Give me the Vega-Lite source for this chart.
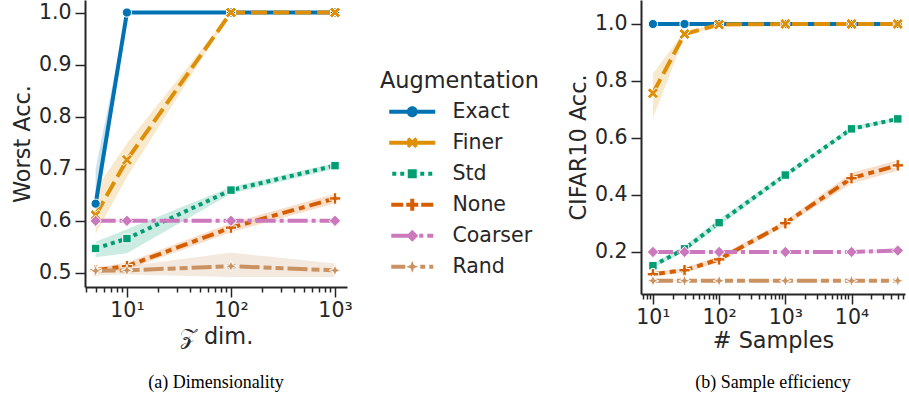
{
  "$schema": "https://vega.github.io/schema/vega-lite/v6.json",
  "padding": {"left": 11, "top": 0, "right": 0, "bottom": 4},
  "config": {
    "view": {"stroke": null},
    "axis": {
      "grid": false,
      "domainColor": "#262626",
      "domainWidth": 2,
      "tickColor": "#262626",
      "tickWidth": 1.5,
      "labelColor": "#262626",
      "titleColor": "#262626",
      "labelFont": "DejaVu Sans",
      "titleFont": "DejaVu Sans",
      "labelFontSize": 20.5,
      "titleFontSize": 22.4,
      "titleFontWeight": "normal"
    },
    "legend": {
      "labelFont": "DejaVu Sans",
      "titleFont": "DejaVu Sans",
      "labelFontSize": 20.5,
      "titleFontSize": 22.4,
      "titleFontWeight": "normal",
      "labelColor": "#262626",
      "titleColor": "#262626",
      "padding": 0
    },
    "title": {"font": "Liberation Serif", "fontSize": 18, "fontWeight": "normal", "color": "#000000"}
  },
  "datasets": {
    "left": [
      {"Augmentation": "Exact", "x": 5, "y": 0.633, "lo": 0.6, "hi": 0.70},
      {"Augmentation": "Exact", "x": 10, "y": 1.0, "lo": 1.0, "hi": 1.0},
      {"Augmentation": "Exact", "x": 100, "y": 1.0, "lo": 1.0, "hi": 1.0},
      {"Augmentation": "Exact", "x": 1000, "y": 1.0, "lo": 1.0, "hi": 1.0},
      {"Augmentation": "Finer", "x": 5, "y": 0.611, "lo": 0.575, "hi": 0.66},
      {"Augmentation": "Finer", "x": 10, "y": 0.717, "lo": 0.684, "hi": 0.749},
      {"Augmentation": "Finer", "x": 100, "y": 1.0, "lo": 1.0, "hi": 1.0},
      {"Augmentation": "Finer", "x": 1000, "y": 1.0, "lo": 1.0, "hi": 1.0},
      {"Augmentation": "Std", "x": 5, "y": 0.547, "lo": 0.53, "hi": 0.56},
      {"Augmentation": "Std", "x": 10, "y": 0.566, "lo": 0.538, "hi": 0.584},
      {"Augmentation": "Std", "x": 100, "y": 0.659, "lo": 0.652, "hi": 0.665},
      {"Augmentation": "Std", "x": 1000, "y": 0.706, "lo": 0.70, "hi": 0.711},
      {"Augmentation": "None", "x": 5, "y": 0.505, "lo": 0.50, "hi": 0.51},
      {"Augmentation": "None", "x": 10, "y": 0.513, "lo": 0.506, "hi": 0.52},
      {"Augmentation": "None", "x": 100, "y": 0.587, "lo": 0.578, "hi": 0.596},
      {"Augmentation": "None", "x": 1000, "y": 0.643, "lo": 0.634, "hi": 0.652},
      {"Augmentation": "Coarser", "x": 5, "y": 0.6, "lo": 0.598, "hi": 0.602},
      {"Augmentation": "Coarser", "x": 10, "y": 0.6, "lo": 0.598, "hi": 0.602},
      {"Augmentation": "Coarser", "x": 100, "y": 0.6, "lo": 0.598, "hi": 0.602},
      {"Augmentation": "Coarser", "x": 1000, "y": 0.6, "lo": 0.598, "hi": 0.602},
      {"Augmentation": "Rand", "x": 5, "y": 0.504, "lo": 0.495, "hi": 0.512},
      {"Augmentation": "Rand", "x": 10, "y": 0.505, "lo": 0.497, "hi": 0.513},
      {"Augmentation": "Rand", "x": 100, "y": 0.513, "lo": 0.492, "hi": 0.539},
      {"Augmentation": "Rand", "x": 1000, "y": 0.505, "lo": 0.492, "hi": 0.518}
    ],
    "right": [
      {"Augmentation": "Exact", "x": 10, "y": 1.0, "lo": 1.0, "hi": 1.0},
      {"Augmentation": "Exact", "x": 30, "y": 1.0, "lo": 1.0, "hi": 1.0},
      {"Augmentation": "Exact", "x": 100, "y": 1.0, "lo": 1.0, "hi": 1.0},
      {"Augmentation": "Exact", "x": 1000, "y": 1.0, "lo": 1.0, "hi": 1.0},
      {"Augmentation": "Exact", "x": 10000, "y": 1.0, "lo": 1.0, "hi": 1.0},
      {"Augmentation": "Exact", "x": 50000, "y": 1.0, "lo": 1.0, "hi": 1.0},
      {"Augmentation": "Finer", "x": 10, "y": 0.757, "lo": 0.67, "hi": 0.825},
      {"Augmentation": "Finer", "x": 30, "y": 0.965, "lo": 0.955, "hi": 0.975},
      {"Augmentation": "Finer", "x": 100, "y": 0.998, "lo": 0.995, "hi": 1.0},
      {"Augmentation": "Finer", "x": 1000, "y": 1.0, "lo": 1.0, "hi": 1.0},
      {"Augmentation": "Finer", "x": 10000, "y": 1.0, "lo": 1.0, "hi": 1.0},
      {"Augmentation": "Finer", "x": 50000, "y": 1.0, "lo": 1.0, "hi": 1.0},
      {"Augmentation": "Std", "x": 10, "y": 0.152, "lo": 0.145, "hi": 0.16},
      {"Augmentation": "Std", "x": 30, "y": 0.211, "lo": 0.2, "hi": 0.222},
      {"Augmentation": "Std", "x": 100, "y": 0.303, "lo": 0.29, "hi": 0.316},
      {"Augmentation": "Std", "x": 1000, "y": 0.47, "lo": 0.462, "hi": 0.478},
      {"Augmentation": "Std", "x": 10000, "y": 0.632, "lo": 0.625, "hi": 0.64},
      {"Augmentation": "Std", "x": 50000, "y": 0.667, "lo": 0.662, "hi": 0.672},
      {"Augmentation": "None", "x": 10, "y": 0.122, "lo": 0.115, "hi": 0.13},
      {"Augmentation": "None", "x": 30, "y": 0.136, "lo": 0.128, "hi": 0.144},
      {"Augmentation": "None", "x": 100, "y": 0.174, "lo": 0.163, "hi": 0.186},
      {"Augmentation": "None", "x": 1000, "y": 0.301, "lo": 0.292, "hi": 0.31},
      {"Augmentation": "None", "x": 10000, "y": 0.459, "lo": 0.44, "hi": 0.478},
      {"Augmentation": "None", "x": 50000, "y": 0.504, "lo": 0.485, "hi": 0.522},
      {"Augmentation": "Coarser", "x": 10, "y": 0.2, "lo": 0.198, "hi": 0.202},
      {"Augmentation": "Coarser", "x": 30, "y": 0.2, "lo": 0.198, "hi": 0.202},
      {"Augmentation": "Coarser", "x": 100, "y": 0.2, "lo": 0.198, "hi": 0.202},
      {"Augmentation": "Coarser", "x": 1000, "y": 0.2, "lo": 0.198, "hi": 0.202},
      {"Augmentation": "Coarser", "x": 10000, "y": 0.2, "lo": 0.197, "hi": 0.203},
      {"Augmentation": "Coarser", "x": 50000, "y": 0.205, "lo": 0.196, "hi": 0.213},
      {"Augmentation": "Rand", "x": 10, "y": 0.099, "lo": 0.097, "hi": 0.101},
      {"Augmentation": "Rand", "x": 30, "y": 0.099, "lo": 0.097, "hi": 0.101},
      {"Augmentation": "Rand", "x": 100, "y": 0.099, "lo": 0.097, "hi": 0.101},
      {"Augmentation": "Rand", "x": 1000, "y": 0.099, "lo": 0.097, "hi": 0.101},
      {"Augmentation": "Rand", "x": 10000, "y": 0.099, "lo": 0.097, "hi": 0.101},
      {"Augmentation": "Rand", "x": 50000, "y": 0.099, "lo": 0.097, "hi": 0.101}
    ]
  },
  "spacing": 214,
  "hconcat": [
    {
      "width": 262,
      "height": 287,
      "data": {"name": "left"},
      "title": {"text": "(a) Dimensionality", "orient": "bottom", "anchor": "middle", "frame": "group", "offset": 26},
      "encoding": {
        "x": {
          "field": "x", "type": "quantitative",
          "scale": {"type": "log", "domain": [3.95, 1304], "nice": false},
          "axis": {
            "title": "𝒵 dim.",
            "values": [4,5,6,7,8,9,10,20,30,40,50,60,70,80,90,100,200,300,400,500,600,700,800,900,1000],
            "labelExpr": "datum.value == 10 ? '10¹' : datum.value == 100 ? '10²' : datum.value == 1000 ? '10³' : ''",
            "tickSize": {"condition": {"test": "datum.value == 10 || datum.value == 100 || datum.value == 1000", "value": 10}, "value": 5},
            "labelPadding": 3,
            "titlePadding": 5,
            "labelFlush": false,
            "labelOverlap": false
          }
        },
        "color": {
          "field": "Augmentation", "type": "nominal",
          "scale": {"domain": ["Exact","Finer","Std","None","Coarser","Rand"], "range": ["#0173b2","#de8f05","#029e73","#d55e00","#cc78bc","#ca9161"]},
          "legend": {
            "orient": "none", "legendX": 295, "legendY": 70,
            "title": "Augmentation",
            "symbolSize": 4, "symbolOffset": 22, "labelOffset": 30,
            "rowPadding": 10, "titlePadding": 9,
            "encode": {"symbols": {"update": {
              "shape": {"signal": "datum.value == 'Exact' ? 'M-23,-2H23V2H-23Z M-5.5,0A5.5,5.5 0 1,1 5.5,0A5.5,5.5 0 1,1 -5.5,0Z' : datum.value == 'Finer' ? 'M-23,-2H23V2H-23Z M3,-5.46L5.46,-3L2.46,0L5.46,3L3,5.46L0,2.46L-3,5.46L-5.46,3L-2.46,0L-5.46,-3L-3,-5.46L0,-2.46Z' : datum.value == 'Std' ? 'M-20,-2H-16V2H-20Z M-12,-2H-8V2H-12Z M-4.5,-4.5H4.5V4.5H-4.5Z M8,-2H12V2H8Z M16,-2H20V2H16Z' : datum.value == 'None' ? 'M-21,-2H-9V2H-21Z M9,-2H21V2H9Z M-2,-6H2V-2H6V2H2V6H-2V2H-6V-2H-2Z' : datum.value == 'Coarser' ? 'M-21,-2H-3V2H-21Z M0,-6L6,0L0,6L-6,0Z M7,-2H11V2H7Z M15,-2H21V2H15Z' : 'M-21,-2H-7V2H-21Z M0,-6L1.6,-1.6L6,0L1.6,1.6L0,6L-1.6,1.6L-6,0L-1.6,-1.6Z M8,-2H13V2H8Z M17,-2H21V2H17Z'"},
              "fill": {"signal": "scale('color', datum.value)"},
              "stroke": {"value": "transparent"},
              "strokeWidth": {"value": 0},
              "size": {"value": 4},
              "opacity": {"value": 1}
            }}}
          }
        }
      },
      "layer": [
        {
          "mark": {"type": "area", "opacity": 0.2},
          "encoding": {
            "y": {"field": "lo", "type": "quantitative", "scale": {"domain": [0.473, 1.024], "nice": false, "zero": false},
                  "axis": {"title": "Worst Acc.", "values": [0.5,0.6,0.7,0.8,0.9,1.0], "format": ".1f", "tickSize": 10, "labelPadding": 4, "titlePadding": 4}},
            "y2": {"field": "hi"}
          }
        },
        {
          "mark": {"type": "line", "strokeWidth": 4, "strokeCap": "butt"},
          "encoding": {
            "y": {"field": "y", "type": "quantitative", "scale": {"domain": [0.473, 1.024], "nice": false, "zero": false},
                  "axis": {"title": "Worst Acc.", "values": [0.5,0.6,0.7,0.8,0.9,1.0], "format": ".1f", "tickSize": 10, "labelPadding": 4, "titlePadding": 4}},
            "strokeDash": {"field": "Augmentation", "type": "nominal", "legend": null,
              "scale": {"domain": ["Exact","Finer","Std","None","Coarser","Rand"], "range": [[1,0],[16,6],[4,4],[12,5,6,5],[20,4,4,4],[20,4,8,4,8,4]]}}
          }
        },
        {
          "mark": {"type": "point", "filled": true, "opacity": 1, "stroke": "white", "strokeWidth": 1},
          "encoding": {
            "y": {"field": "y", "type": "quantitative", "scale": {"domain": [0.473, 1.024], "nice": false, "zero": false},
                  "axis": {"title": "Worst Acc.", "values": [0.5,0.6,0.7,0.8,0.9,1.0], "format": ".1f", "tickSize": 10, "labelPadding": 4, "titlePadding": 4}},
            "shape": {"condition": [
              {"test": "datum.Augmentation == 'Finer'", "value": "M0.5,-0.91L0.91,-0.5L0.41,0L0.91,0.5L0.5,0.91L0,0.41L-0.5,0.91L-0.91,0.5L-0.41,0L-0.91,-0.5L-0.5,-0.91L0,-0.41Z"},
              {"test": "datum.Augmentation == 'Std'", "value": "square"},
              {"test": "datum.Augmentation == 'None'", "value": "M-0.3,-1H0.3V-0.3H1V0.3H0.3V1H-0.3V0.3H-1V-0.3H-0.3Z"},
              {"test": "datum.Augmentation == 'Coarser'", "value": "diamond"},
              {"test": "datum.Augmentation == 'Rand'", "value": "M0,-1L0.27,-0.27L1,0L0.27,0.27L0,1L-0.27,0.27L-1,0L-0.27,-0.27Z"}
            ], "value": "circle"},
            "size": {"condition": [
              {"test": "datum.Augmentation == 'Finer'", "value": 150},
              {"test": "datum.Augmentation == 'Std'", "value": 72},
              {"test": "datum.Augmentation == 'None'", "value": 130},
              {"test": "datum.Augmentation == 'Coarser'", "value": 130},
              {"test": "datum.Augmentation == 'Rand'", "value": 140}
            ], "value": 85}
          }
        }
      ]
    },
    {
      "width": 264,
      "height": 294,
      "data": {"name": "right"},
      "title": {"text": "(b) Sample efficiency", "orient": "bottom", "anchor": "middle", "frame": "group", "offset": 22},
      "encoding": {
        "x": {
          "field": "x", "type": "quantitative",
          "scale": {"type": "log", "domain": [6.6, 64300], "nice": false},
          "axis": {
            "title": "# Samples",
            "values": [7,8,9,10,20,30,40,50,60,70,80,90,100,200,300,400,500,600,700,800,900,1000,2000,3000,4000,5000,6000,7000,8000,9000,10000,20000,30000,40000,50000,60000],
            "labelExpr": "datum.value == 10 ? '10¹' : datum.value == 100 ? '10²' : datum.value == 1000 ? '10³' : datum.value == 10000 ? '10⁴' : ''",
            "tickSize": {"condition": {"test": "datum.value == 10 || datum.value == 100 || datum.value == 1000 || datum.value == 10000", "value": 10}, "value": 5},
            "labelPadding": 3,
            "titlePadding": 2,
            "labelFlush": false,
            "labelOverlap": false
          }
        },
        "color": {
          "field": "Augmentation", "type": "nominal",
          "scale": {"domain": ["Exact","Finer","Std","None","Coarser","Rand"], "range": ["#0173b2","#de8f05","#029e73","#d55e00","#cc78bc","#ca9161"]}
        }
      },
      "layer": [
        {
          "mark": {"type": "area", "opacity": 0.2},
          "encoding": {
            "y": {"field": "lo", "type": "quantitative", "scale": {"domain": [0.0526, 1.0842], "nice": false, "zero": false},
                  "axis": {"title": "CIFAR10 Acc.", "values": [0.2,0.4,0.6,0.8,1.0], "format": ".1f", "tickSize": 10, "labelPadding": 4, "titlePadding": 4}},
            "y2": {"field": "hi"}
          }
        },
        {
          "mark": {"type": "line", "strokeWidth": 4, "strokeCap": "butt"},
          "encoding": {
            "y": {"field": "y", "type": "quantitative", "scale": {"domain": [0.0526, 1.0842], "nice": false, "zero": false},
                  "axis": {"title": "CIFAR10 Acc.", "values": [0.2,0.4,0.6,0.8,1.0], "format": ".1f", "tickSize": 10, "labelPadding": 4, "titlePadding": 4}},
            "strokeDash": {"field": "Augmentation", "type": "nominal", "legend": null,
              "scale": {"domain": ["Exact","Finer","Std","None","Coarser","Rand"], "range": [[1,0],[16,6],[4,4],[12,5,6,5],[20,4,4,4],[20,4,8,4,8,4]]}}
          }
        },
        {
          "mark": {"type": "point", "filled": true, "opacity": 1, "stroke": "white", "strokeWidth": 1},
          "encoding": {
            "y": {"field": "y", "type": "quantitative", "scale": {"domain": [0.0526, 1.0842], "nice": false, "zero": false},
                  "axis": {"title": "CIFAR10 Acc.", "values": [0.2,0.4,0.6,0.8,1.0], "format": ".1f", "tickSize": 10, "labelPadding": 4, "titlePadding": 4}},
            "shape": {"condition": [
              {"test": "datum.Augmentation == 'Finer'", "value": "M0.5,-0.91L0.91,-0.5L0.41,0L0.91,0.5L0.5,0.91L0,0.41L-0.5,0.91L-0.91,0.5L-0.41,0L-0.91,-0.5L-0.5,-0.91L0,-0.41Z"},
              {"test": "datum.Augmentation == 'Std'", "value": "square"},
              {"test": "datum.Augmentation == 'None'", "value": "M-0.3,-1H0.3V-0.3H1V0.3H0.3V1H-0.3V0.3H-1V-0.3H-0.3Z"},
              {"test": "datum.Augmentation == 'Coarser'", "value": "diamond"},
              {"test": "datum.Augmentation == 'Rand'", "value": "M0,-1L0.27,-0.27L1,0L0.27,0.27L0,1L-0.27,0.27L-1,0L-0.27,-0.27Z"}
            ], "value": "circle"},
            "size": {"condition": [
              {"test": "datum.Augmentation == 'Finer'", "value": 150},
              {"test": "datum.Augmentation == 'Std'", "value": 72},
              {"test": "datum.Augmentation == 'None'", "value": 130},
              {"test": "datum.Augmentation == 'Coarser'", "value": 130},
              {"test": "datum.Augmentation == 'Rand'", "value": 140}
            ], "value": 85}
          }
        }
      ]
    }
  ]
}
